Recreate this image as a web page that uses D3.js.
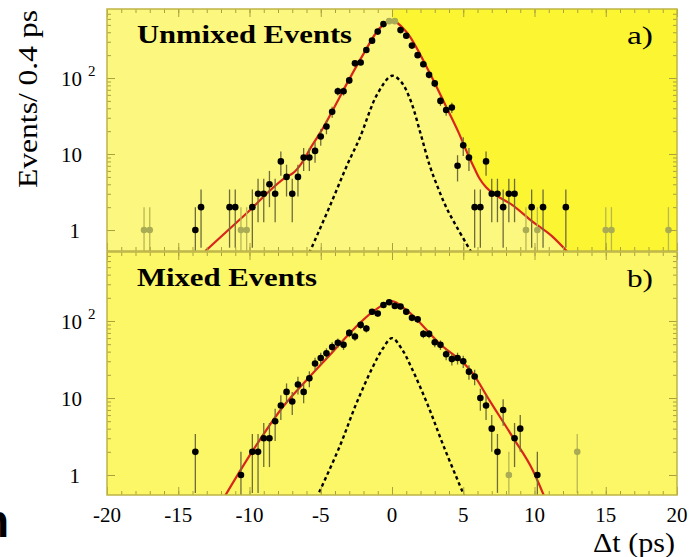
<!DOCTYPE html>
<html><head><meta charset="utf-8">
<script src="https://cdn.jsdelivr.net/npm/d3@7"></script>
<style>body{margin:0;background:#fff}svg{display:block}</style>
</head><body>
<svg id="c" width="689" height="557"></svg>
<script>
// ---------- data ----------
const xTickLabels = ["-20","-15","-10","-5","0","5","10","15","20"];
const xMajorTicks = [-20,-15,-10,-5,0,5,10,15,20];
const yMajorTicks = [1,10,100];

// Unmixed events (bin centers, counts); olive = faint points
const unmixedX = [-17.4,-17.0,-13.8,-13.4,-11.4,-11.0,-10.6,-10.2,-9.8,-9.4,-9.0,-8.6,-8.2,-7.8,-7.4,-7.0,-6.6,-6.2,-5.8,-5.4,-5.0,-4.6,-4.2,-3.8,-3.4,-3.0,-2.6,-2.2,-1.8,-1.4,-1.0,-0.6,-0.2,0.2,0.6,1.0,1.4,1.8,2.2,2.6,3.0,3.4,3.8,4.2,4.6,5.0,5.4,5.8,6.2,6.6,7.0,7.4,7.8,8.2,8.6,9.4,9.8,10.2,10.6,12.2,15.0,15.4,19.4];
const unmixedY = [1,1,1,2,2,2,1,1,2,3,3,4,3,8,5,3,5,9,9,11,17,23,36,67,67,93,156,160,234,310,408,512,560,560,427,360,267,200,152,110,85,50,38,41,7,13,9,2,2,8,3,3,2,3,3,1,2,1,2,2,1,1,1];
const unmixedOlive = [-17.4,-17.0,-10.6,-10.2,-0.2,0.2,9.4,10.2,15.0,15.4,19.4];

const mixedX = [-13.8,-10.6,-9.8,-9.4,-9.0,-8.6,-8.2,-7.8,-7.4,-7.0,-6.6,-6.2,-5.8,-5.4,-5.0,-4.6,-4.2,-3.8,-3.4,-3.0,-2.6,-2.2,-1.8,-1.4,-1.0,-0.6,-0.2,0.2,0.6,1.0,1.4,1.8,2.2,2.6,3.0,3.4,3.8,4.2,4.6,5.0,5.4,5.8,6.2,6.6,7.0,7.4,7.8,8.2,8.6,9.0,10.2,13.0];
const mixedY = [2,1,2,2,3,3,5,8,12,9,15,12,18,28,33,38,46,52,49,70,63,89,80,132,125,161,175,157,154,132,110,105,68,68,53,49,37,32,33,30,22,19,10,8,4,2,7,1,3,4,1,2];
const mixedOlive = [8.2,13.0];

// fit curves
const unmixedFitX = [-13.1,-10.2,-7.4,-6.95,-6.36,-5.66,-4.85,-4.15,-3.1,-2.05,-0.875,-0.2,0,1.0,2.6,3.8,4.7,5.4,5.78,6.13,6.6,7.18,8.45,9.86,11.26,12.3];
const unmixedFitY = [0.53,1.66,5.0,5.6,7.5,12.5,21.8,38,89,200,450,555,565,407,121,42,18.7,9.2,6.5,4.8,3.65,2.97,2.13,1.29,0.82,0.52];
const unmixedSigX = [-5.8,-4.3,-3.1,-2.28,-1.0,0,0.64,1.3,2.0,2.63,3.2,3.8,4.6,5.6];
const unmixedSigY = [0.5,2.2,7.5,16,63,107,89,51,18.7,7.2,3.7,2.0,1.05,0.5];

const mixedFitX = [-11.73,-9.75,-7.65,-5.78,-4.15,-2.98,-1.34,-0.18,0,1.0,3.33,5.66,6.83,8.47,9.87,10.68];
const mixedFitY = [0.53,2.1,7.7,18.9,40,69,132,178,181,139,51,21,9.4,3.1,1.16,0.53];
const mixedSigX = [-5.3,-3.68,-2.5,-1.34,-0.64,0,0.7,1.4,2.5,3.65,5.1];
const mixedSigY = [0.5,2.33,8.5,25.5,44,60,43,24,8.2,2.3,0.52];

// ---------- drawing ----------
const svg = d3.select("#c");
const L = 107, R = 677;
const panels = [
  {top:9, bottom:251, dom:[0.53,809], px:unmixedX, py:unmixedY, olive:unmixedOlive,
   fx:unmixedFitX, fy:unmixedFitY, sx:unmixedSigX, sy:unmixedSigY, title:"Unmixed Events", tag:"a)", bg:"#fcf77e", bright:true, tw:215},
  {top:252, bottom:495, dom:[0.55,787], px:mixedX, py:mixedY, olive:mixedOlive,
   fx:mixedFitX, fy:mixedFitY, sx:mixedSigX, sy:mixedSigY, title:"Mixed Events", tag:"b)", bg:"#fcf766", bright:false, tw:180}
];
const x = d3.scaleLinear().domain([-20,20]).range([L,R]);
const frameCol = "#bdb446", tickCol = "#a9a140";
const serif = "'Liberation Serif','DejaVu Serif',serif";

const minorX = d3.range(-20,21,1);
const minorY = [];
[1,10,100].forEach(d=>{for(let k=2;k<=9;k++){const v=d*k; if(v<800) minorY.push(v);}});

panels.forEach((p,i)=>{
  const y = d3.scaleLog().domain(p.dom).range([p.bottom,p.top]);
  const g = svg.append("g");
  const cid = "clip"+i;
  svg.append("clipPath").attr("id",cid).append("rect")
    .attr("x",L).attr("y",p.top).attr("width",R-L).attr("height",p.bottom-p.top);
  g.append("rect").attr("x",L).attr("y",p.top).attr("width",R-L).attr("height",p.bottom-p.top).attr("fill",p.bg);

  const fitPts = p.fx.map((v,j)=>[v,p.fy[j]]);
  const line = d3.line().x(d=>x(d[0])).y(d=>y(d[1])).curve(d3.curveMonotoneX);
  const smooth = d3.line().x(d=>x(d[0])).y(d=>y(d[1])).curve(d3.curveCatmullRom.alpha(0.5));
  const inner = g.append("g").attr("clip-path",`url(#${cid})`);
  if(p.bright){
    const right = fitPts.filter(d=>d[0]>=0);
    const pathD = line(right)+`L${x(20)},${p.bottom}L${x(20)},${p.top}L${x(0)},${p.top}Z`;
    inner.append("path").attr("d",pathD).attr("fill","#fcf632");
  }

  // axes (ticks inward)
  const mk = (axis,tr)=>{const a=g.append("g").attr("transform",tr).call(axis);
    a.select(".domain").remove(); a.selectAll("line").attr("stroke",tickCol).attr("stroke-width",1); a.selectAll("text").remove(); return a;};
  mk(d3.axisBottom(x).tickValues(minorX).tickSize(-4).tickFormat(""),`translate(0,${p.bottom})`);
  mk(d3.axisBottom(x).tickValues(xMajorTicks).tickSize(-8).tickFormat(""),`translate(0,${p.bottom})`);
  mk(d3.axisTop(x).tickValues(minorX).tickSize(-4).tickFormat(""),`translate(0,${p.top})`);
  mk(d3.axisTop(x).tickValues(xMajorTicks).tickSize(-8).tickFormat(""),`translate(0,${p.top})`);
  mk(d3.axisLeft(y).tickValues(minorY).tickSize(-4).tickFormat(""),`translate(${L},0)`);
  mk(d3.axisLeft(y).tickValues(yMajorTicks).tickSize(-8).tickFormat(""),`translate(${L},0)`);
  mk(d3.axisRight(y).tickValues(minorY).tickSize(-4).tickFormat(""),`translate(${R},0)`);
  mk(d3.axisRight(y).tickValues(yMajorTicks).tickSize(-8).tickFormat(""),`translate(${R},0)`);

  // curves
  inner.append("path").attr("d",smooth(p.sx.map((v,j)=>[v,p.sy[j]])))
    .attr("fill","none").attr("stroke","#000").attr("stroke-width",2.4).attr("stroke-dasharray","3.5,3");
  inner.append("path").attr("d",line(fitPts))
    .attr("fill","none").attr("stroke","#d8261c").attr("stroke-width",2.2);

  // points with Poisson error bars
  const pts = p.px.map((v,j)=>({x:v,n:p.py[j],o:p.olive.includes(v)}));
  inner.selectAll(".eb").data(pts).join("line")
    .attr("x1",d=>x(d.x)).attr("x2",d=>x(d.x))
    .attr("y1",d=>{const lo=d.n-Math.sqrt(d.n); return lo>p.dom[0]?y(lo):p.bottom;})
    .attr("y2",d=>y(d.n+Math.sqrt(d.n)))
    .attr("stroke",d=>d.o?"#b9b656":"#6f6c3a").attr("stroke-width",1.3);
  inner.selectAll(".pt").data(pts).join("circle")
    .attr("cx",d=>x(d.x)).attr("cy",d=>y(d.n)).attr("r",3.3)
    .attr("fill",d=>d.o?"#a9ab55":"#000");

  g.append("rect").attr("x",L).attr("y",p.top).attr("width",R-L).attr("height",p.bottom-p.top)
    .attr("fill","none").attr("stroke",frameCol).attr("stroke-width",1.5);

  // y tick labels
  yMajorTicks.forEach(v=>{
    g.append("text").attr("x",v===1?80:82).attr("y",y(v)+8).attr("text-anchor","end")
      .attr("font-family",serif).attr("font-size",21).text(v===100?"10":String(v));
    if(v===100){
      g.append("text").attr("x",88).attr("y",y(v)-2).attr("font-family",serif).attr("font-size",15).text("2");
    }
  });

  g.append("text").attr("x",137).attr("y",p.top+34).attr("font-family",serif).attr("font-weight","bold")
    .attr("font-size",26).attr("textLength",p.tw).attr("lengthAdjust","spacingAndGlyphs").text(p.title);
  g.append("text").attr("x",627).attr("y",p.top+35).attr("font-family",serif)
    .attr("font-size",25).attr("textLength",26).attr("lengthAdjust","spacingAndGlyphs").text(p.tag);
});

// x tick labels
xMajorTicks.forEach((v,i)=>{
  svg.append("text").attr("x",x(v)).attr("y",522).attr("text-anchor","middle")
    .attr("font-family",serif).attr("font-size",21).text(xTickLabels[i]);
});
svg.append("text").attr("x",593).attr("y",552).attr("font-family",serif).attr("font-size",27)
  .attr("textLength",82).attr("lengthAdjust","spacingAndGlyphs").text("Δt (ps)");
svg.append("text").attr("transform","translate(37,99) rotate(-90)").attr("text-anchor","middle")
  .attr("font-family",serif).attr("font-size",28).attr("textLength",178).attr("lengthAdjust","spacingAndGlyphs")
  .text("Events/ 0.4 ps");
svg.append("text").attr("x",-19).attr("y",537).attr("font-family","'Liberation Sans',sans-serif")
  .attr("font-weight","bold").attr("font-size",46).text("n");
</script>
</body></html>
